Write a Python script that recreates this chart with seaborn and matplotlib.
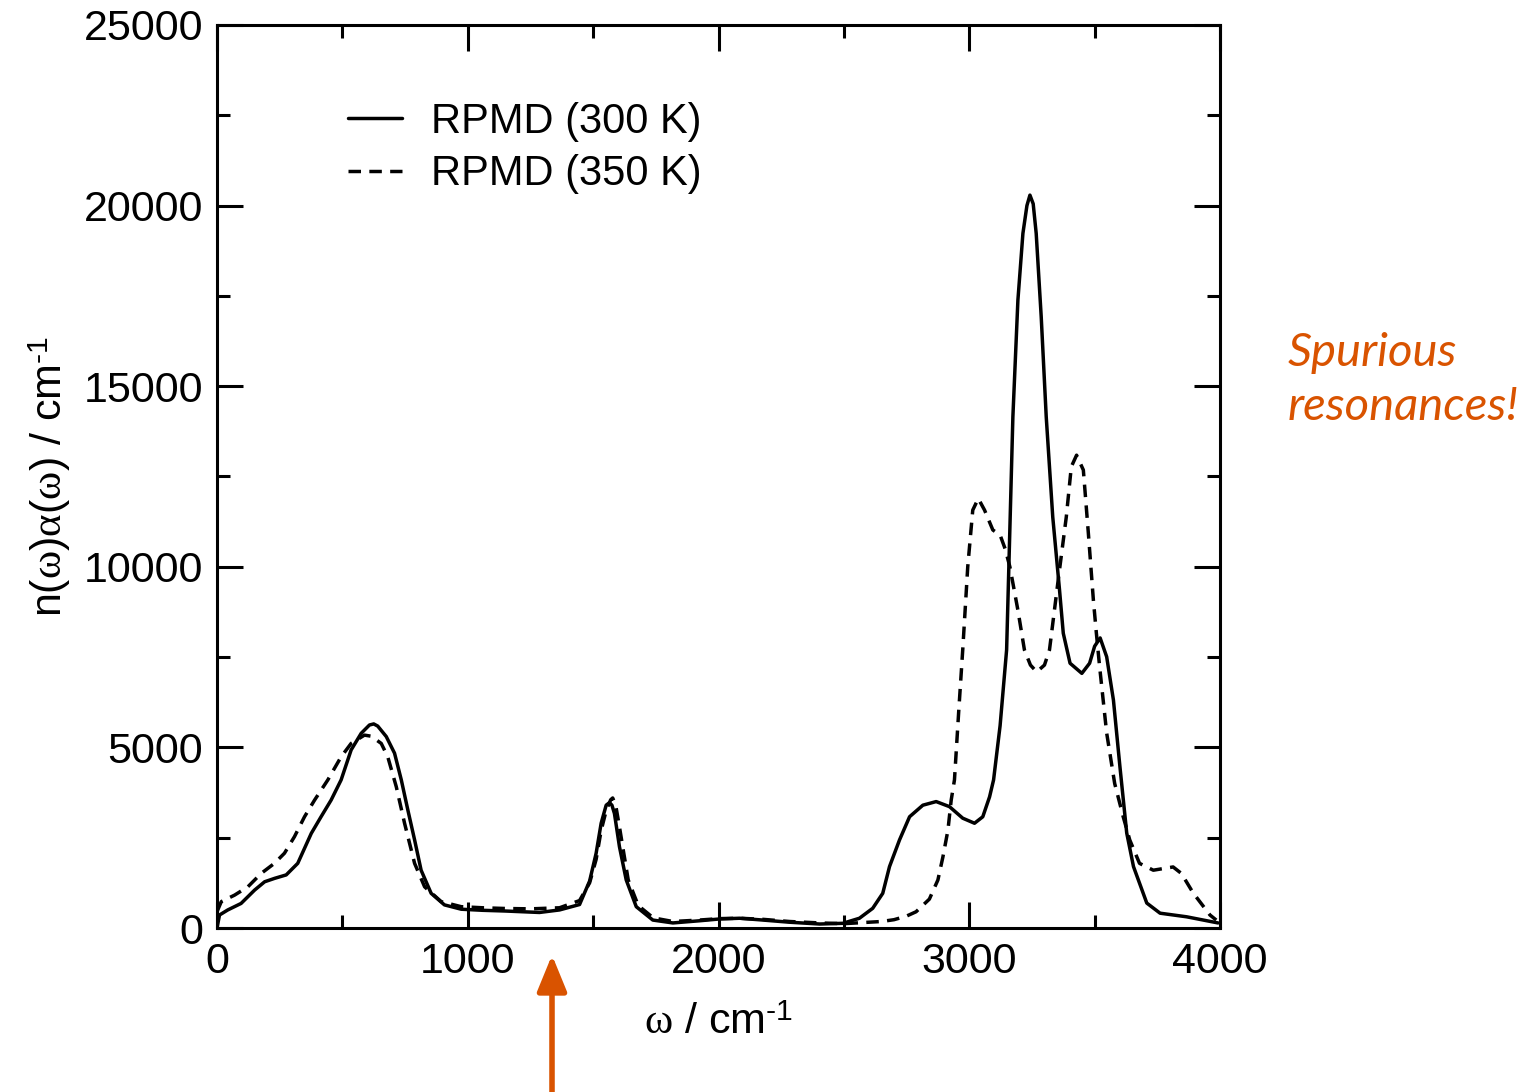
import pandas as pd
import matplotlib
matplotlib.use('Agg')
import matplotlib.pyplot as plt
import seaborn as sns
from matplotlib.ticker import MultipleLocator

sns.set_style('ticks', rc={'text.color': 'black', 'axes.labelcolor': 'black',
                           'xtick.color': 'black', 'ytick.color': 'black'})
plt.rcParams['font.family'] = ['Liberation Sans', 'DejaVu Sans']
plt.rcParams['mathtext.fontset'] = 'custom'
plt.rcParams['mathtext.rm'] = 'Liberation Sans'
plt.rcParams['mathtext.it'] = 'Liberation Serif'

# RPMD (300 K) spectrum
x_300 = [0, 10, 43, 96, 150, 190, 230, 276, 322, 376, 415, 455, 495, 535, 575, 608,
         625, 641, 675, 708, 735, 761, 788, 814, 854, 907, 974, 1059, 1150, 1286, 1366,
         1446, 1486, 1512, 1532, 1552, 1565, 1575, 1585, 1605, 1632, 1672, 1738, 1818,
         1924, 2004, 2084, 2177, 2283, 2404, 2496, 2562, 2615, 2655, 2682, 2722,
         2762, 2815, 2868, 2921, 2974, 3021, 3054, 3081, 3097, 3123, 3149, 3174,
         3194, 3214, 3230, 3242, 3255, 3267, 3287, 3307, 3333, 3360, 3375, 3402, 3449,
         3480, 3500, 3522, 3548, 3575, 3601, 3628, 3655, 3708, 3761, 3867, 3992]
y_300 = [0, 360, 500, 680, 1050, 1280, 1375, 1470, 1790, 2620, 3080, 3540, 4100, 4930,
         5390, 5620, 5650, 5590, 5300, 4840, 4100, 3270, 2440, 1600, 960, 640, 520, 490,
         470, 430, 500, 650, 1300, 2070, 2900, 3400, 3470, 3400, 3170, 2250, 1330, 590,
         220, 140, 200, 250, 270, 220, 160, 110, 130, 270, 545, 960, 1700, 2440,
         3080, 3400, 3500, 3360, 3040, 2900, 3080, 3630, 4100, 5600, 7700, 14150,
         17380, 19230, 20000, 20290, 20050, 19230, 16920, 14150, 11380, 9360, 8160,
         7330, 7050, 7330, 7800, 8030, 7510, 6310, 4460, 2630, 1700, 690, 410, 310, 140]

# RPMD (350 K) spectrum
x_350 = [0, 17, 70, 123, 176, 229, 269, 309, 349, 389, 442, 495, 535, 588, 615, 655,
         681, 715, 748, 788, 828, 894, 974, 1059, 1150, 1250, 1366, 1446, 1486, 1512,
         1532, 1552, 1570, 1578, 1590, 1605, 1618, 1640, 1680, 1740, 1818, 1924,
         2004, 2084, 2177, 2283, 2404, 2500, 2575, 2650, 2700, 2750, 2788, 2841,
         2875, 2895, 2915, 2928, 2941, 2958, 2974, 2994, 3014, 3036, 3061, 3094,
         3123, 3143, 3162, 3194, 3220, 3244, 3269, 3300, 3320, 3353, 3387, 3407,
         3428, 3455, 3475, 3495, 3507, 3520, 3548, 3580, 3614, 3640, 3679, 3734,
         3813, 3846, 3893, 3960, 3985]
y_350 = [450, 730, 910, 1140, 1510, 1790, 2070, 2530, 3080, 3540, 4100, 4740, 5110,
         5340, 5310, 5110, 4740, 3910, 2900, 1790, 1140, 730, 590, 560, 540, 530,
         560, 760, 1250, 1900, 2700, 3250, 3550, 3600, 3400, 2800, 2250, 1330, 620,
         280, 180, 220, 260, 270, 240, 180, 140, 120, 150, 180, 230, 330, 450, 800,
         1330, 1970, 2710, 3540, 4100, 6000, 7700, 10000, 11570, 11890, 11570,
         11020, 10880, 10500, 10000, 8800, 7700, 7280, 7090, 7280, 7700, 9540,
         11380, 12770, 13090, 12680, 10930, 9080, 8160, 7230, 5400, 4000, 3080,
         2440, 1790, 1600, 1690, 1510, 970, 360, 220]

labels = ['RPMD (300 K)', 'RPMD (350 K)']

df = pd.concat([
    pd.DataFrame({'w': x_300, 'I': y_300, 'run': labels[0]}),
    pd.DataFrame({'w': x_350, 'I': y_350, 'run': labels[1]}),
])

fig = plt.figure(figsize=(15.32, 10.92), dpi=100)
ax = fig.add_axes([217 / 1532, 1 - 928 / 1092, (1220 - 217) / 1532, (928 - 25) / 1092])

sns.lineplot(data=df, x='w', y='I', style='run', color='black', linewidth=2.5,
             dashes={labels[0]: '', labels[1]: (3.6, 2.4)}, estimator=None, ax=ax)

ax.set_xlim(0, 4000)
ax.set_ylim(0, 25000)
ax.xaxis.set_major_locator(MultipleLocator(1000))
ax.xaxis.set_minor_locator(MultipleLocator(500))
ax.yaxis.set_major_locator(MultipleLocator(5000))
ax.yaxis.set_minor_locator(MultipleLocator(2500))
ax.tick_params(which='both', direction='in', top=True, right=True, width=2.2,
               labelsize=31, color='black', labelcolor='black')
ax.tick_params(which='major', length=18.5)
ax.tick_params(which='minor', length=9.5)
ax.tick_params(axis='x', pad=10)
ax.tick_params(axis='y', pad=10)
for s in ax.spines.values():
    s.set_linewidth(2.2)
    s.set_color('black')

ax.set_xlabel(r'$\omega$ / cm$^{\text{-1}}$', fontsize=31, labelpad=15)
ax.set_ylabel(r'n($\omega$)$\alpha$($\omega$) / cm$^{\text{-1}}$', fontsize=31, labelpad=8)

ax.legend(title=None, frameon=False, fontsize=30, handlelength=1.3, handletextpad=0.7,
          labelspacing=0.3, borderpad=0, borderaxespad=0, loc='upper left',
          bbox_to_anchor=(348 / 1532, 1 - 102 / 1092), bbox_transform=fig.transFigure)

orange = '#d95300'
fig.text(1288 / 1532, 1 - 380 / 1092, 'Spurious\nresonances!', color=orange,
         fontsize=34, style='italic', family=['Lato', 'DejaVu Sans'],
         va='center', ha='left', linespacing=1.35)
ax.annotate('', xy=(552 / 1532, 1 - 955 / 1092), xytext=(552 / 1532, 0),
            xycoords='figure fraction', textcoords='figure fraction',
            arrowprops=dict(arrowstyle='-|>,head_width=0.45,head_length=1.1',
                            color=orange, lw=4, shrinkA=0, shrinkB=0,
                            mutation_scale=20))

fig.savefig('out.png', dpi=100)
